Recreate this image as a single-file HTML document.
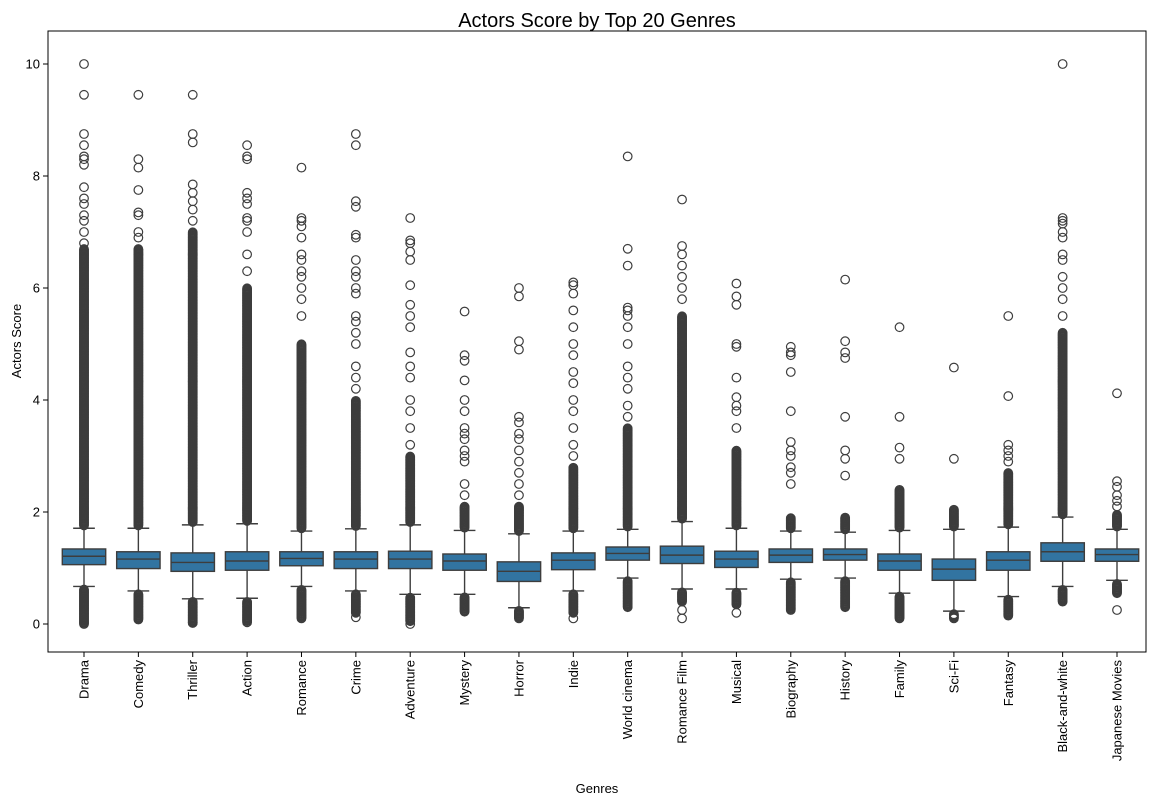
<!DOCTYPE html>
<html><head><meta charset="utf-8"><style>
body{margin:0;background:#fff;font-family:"Liberation Sans",sans-serif}
svg text{font-family:"Liberation Sans",sans-serif;fill:#000}
</style></head><body>
<svg id="chart" width="1152" height="807" xmlns="http://www.w3.org/2000/svg">
<rect width="1152" height="807" fill="#fff"/>
<text x="597" y="27" font-size="20" text-anchor="middle">Actors Score by Top 20 Genres</text>
<g id="plot"></g>
<text transform="translate(21,341) rotate(-90)" font-size="13" text-anchor="middle">Actors Score</text>
<text x="597" y="793" font-size="13" text-anchor="middle">Genres</text>
</svg>
<script>
const categories=["Drama","Comedy","Thriller","Action","Romance","Crime","Adventure","Mystery","Horror","Indie","World cinema","Romance Film","Musical","Biography","History","Family","Sci-Fi","Fantasy","Black-and-white","Japanese Movies"];
const q1=[1.06,0.99,0.94,0.96,1.04,0.99,0.99,0.96,0.76,0.97,1.14,1.08,1.01,1.10,1.14,0.96,0.78,0.96,1.12,1.12];
const median=[1.21,1.16,1.10,1.125,1.17,1.16,1.16,1.125,0.94,1.14,1.26,1.23,1.16,1.23,1.24,1.125,0.98,1.14,1.29,1.24];
const q3=[1.34,1.29,1.27,1.29,1.29,1.29,1.30,1.25,1.11,1.27,1.375,1.39,1.30,1.34,1.34,1.25,1.16,1.29,1.45,1.34];
const whiskerLow=[0.67,0.59,0.45,0.46,0.67,0.59,0.53,0.53,0.29,0.59,0.82,0.625,0.625,0.80,0.82,0.55,0.23,0.49,0.67,0.78];
const whiskerHigh=[1.71,1.71,1.77,1.79,1.66,1.70,1.77,1.67,1.61,1.66,1.69,1.83,1.71,1.66,1.64,1.67,1.69,1.73,1.91,1.69];
const denseHighTop=[6.7,6.7,7.0,6.0,5.0,4.0,3.0,2.1,2.1,2.8,3.5,5.5,3.1,1.9,1.9,2.4,2.05,2.7,5.2,1.95];
const denseLowBottom=[0.0,0.08,0.02,0.05,0.1,0.2,0.05,0.22,0.1,0.2,0.3,0.4,0.35,0.25,0.3,0.1,0.1,0.15,0.4,0.55];
const sparseOutliers=[
[6.8,7.0,7.2,7.3,7.5,7.6,7.8,8.2,8.3,8.35,8.55,8.75,9.45,10.0],
[6.9,7.0,7.3,7.35,7.75,8.15,8.3,9.45],
[7.2,7.4,7.55,7.7,7.85,8.6,8.75,9.45,0.02],
[6.3,6.6,7.0,7.2,7.25,7.5,7.6,7.7,8.3,8.35,8.55,0.03],
[5.5,5.8,6.0,6.2,6.3,6.5,6.6,6.9,7.1,7.2,7.25,8.15],
[4.2,4.4,4.6,5.0,5.2,5.4,5.5,5.9,6.0,6.2,6.3,6.5,6.9,6.95,7.45,7.55,8.55,8.75,0.12],
[3.2,3.5,3.8,4.0,4.4,4.6,4.85,5.3,5.5,5.7,6.05,6.5,6.65,6.8,6.85,7.25,0.0],
[2.3,2.5,2.9,3.0,3.1,3.3,3.4,3.5,3.8,4.0,4.35,4.7,4.8,5.58],
[2.3,2.5,2.7,2.9,3.1,3.3,3.4,3.6,3.7,4.9,5.05,5.85,6.0],
[3.0,3.2,3.5,3.8,4.0,4.3,4.5,4.8,5.0,5.3,5.6,5.9,6.05,6.1,0.1],
[3.7,3.9,4.2,4.4,4.6,5.0,5.3,5.5,5.6,5.65,6.4,6.7,8.35],
[5.8,6.0,6.2,6.4,6.6,6.75,7.58,0.1,0.25],
[3.5,3.8,3.9,4.05,4.4,4.95,5.0,5.7,5.85,6.08,0.2],
[2.5,2.7,2.8,3.0,3.1,3.25,3.8,4.5,4.8,4.85,4.95],
[2.65,2.95,3.1,3.7,4.75,4.85,5.05,6.15],
[2.95,3.15,3.7,5.3],
[2.95,4.58],
[2.9,3.0,3.1,3.2,4.07,5.5],
[5.5,5.8,6.0,6.2,6.5,6.6,6.9,7.0,7.15,7.2,7.25,10.0],
[2.1,2.2,2.3,2.45,2.55,4.12,0.25]
];
const yTicks=[0,2,4,6,8,10];
const NS="http://www.w3.org/2000/svg";
const L=48,R=1146,T=31,B=652;
function yScale(v){return 624-56*v;}
function xScale(i){return 84+i*(1117-84)/(categories.length-1);}
const g=document.getElementById('plot');
function mk(tag,attrs){const e=document.createElementNS(NS,tag);for(const k in attrs)e.setAttribute(k,attrs[k]);g.appendChild(e);return e;}
const ec="#3d3d3d";
categories.forEach((c,i)=>{
  const x=xScale(i),hw=21.7;
  const grp=document.createElementNS(NS,'g');
  
  
  g.appendChild(grp);
  function add(tag,a){const e=document.createElementNS(NS,tag);for(const k in a)e.setAttribute(k,a[k]);grp.appendChild(e);return e;}
  const circ=v=>add('circle',{cx:x,cy:yScale(v),r:4.3,fill:'none',stroke:ec,'stroke-width':1.2});
  for(let v=whiskerHigh[i]+0.05;v<=denseHighTop[i];v+=0.015)circ(v);
  for(let v=denseLowBottom[i];v<=whiskerLow[i]-0.05;v+=0.015)circ(v);
  sparseOutliers[i].forEach(circ);
  add('line',{x1:x,x2:x,y1:yScale(q3[i]),y2:yScale(whiskerHigh[i]),stroke:ec,'stroke-width':1.4});
  add('line',{x1:x,x2:x,y1:yScale(q1[i]),y2:yScale(whiskerLow[i]),stroke:ec,'stroke-width':1.4});
  add('line',{x1:x-hw/2,x2:x+hw/2,y1:yScale(whiskerHigh[i]),y2:yScale(whiskerHigh[i]),stroke:ec,'stroke-width':1.4});
  add('line',{x1:x-hw/2,x2:x+hw/2,y1:yScale(whiskerLow[i]),y2:yScale(whiskerLow[i]),stroke:ec,'stroke-width':1.4});
  add('rect',{x:x-hw,y:yScale(q3[i]),width:2*hw,height:yScale(q1[i])-yScale(q3[i]),fill:'#3274a1',stroke:ec,'stroke-width':1.4});
  add('line',{x1:x-hw,x2:x+hw,y1:yScale(median[i]),y2:yScale(median[i]),stroke:ec,'stroke-width':1.4});
  const t=document.createElementNS(NS,'text');
  
  
  t.setAttribute('transform',`translate(${x+4.5},660) rotate(-90)`);
  t.setAttribute('font-size','13');t.setAttribute('text-anchor','end');
  t.textContent=c;g.appendChild(t);
  mk('line',{x1:x,x2:x,y1:B,y2:B+5,stroke:'#000','stroke-width':1});
});
yTicks.forEach(v=>{
  mk('line',{x1:L-5,x2:L,y1:yScale(v),y2:yScale(v),stroke:'#000','stroke-width':1});
  const t=document.createElementNS(NS,'text');
  
  
  t.setAttribute('x',L-8);t.setAttribute('y',yScale(v)+4.5);
  t.setAttribute('font-size','13');t.setAttribute('text-anchor','end');
  t.textContent=v;g.appendChild(t);
});
const fr=mk('rect',{x:L,y:T,width:R-L,height:B-T,fill:'none',stroke:'#000','stroke-width':1});


</script>
</body></html>
